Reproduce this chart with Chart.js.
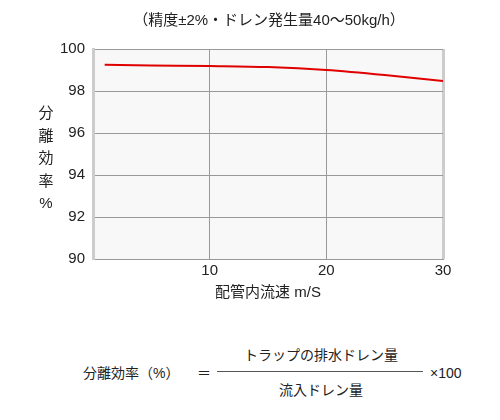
<!DOCTYPE html>
<html>
<head>
<meta charset="utf-8">
<script src="https://cdn.jsdelivr.net/npm/chart.js@4"></script>
<style>
  body { margin: 0; background: #fff; }
  #wrap { position: relative; width: 500px; height: 420px; font-family: 'Liberation Sans', 'Noto Sans CJK JP', sans-serif; color: #222; }
  #box { position: absolute; left: 0; top: 0; width: 500px; height: 305px; }
  .txt { position: absolute; white-space: nowrap; font-size: 14px; line-height: 1; }
  #title { left: 269px; top: 12px; transform: translateX(-50%); font-size: 15px; }
  #ylab { position: absolute; left: 38px; top: 102px; width: 16px; font-size: 15px; line-height: 22.5px; text-align: center; }
  #frac { position: absolute; left: 217px; top: 371px; width: 206px; border-top: 1px solid #555; }
</style>
</head>
<body>
<div id="wrap">
  <div id="box"><canvas id="chart"></canvas></div>
  <div class="txt" id="title">（精度±2%・ドレン発生量40～50kg/h）</div>
  <div id="ylab">分<br>離<br>効<br>率<br>%</div>
  <div class="txt" style="left:83px; top:366px;">分離効率（%）</div>
  <div class="txt" style="left:197px; top:366px;">＝</div>
  <div class="txt" style="left:321px; top:348px; transform:translateX(-50%);">トラップの排水ドレン量</div>
  <div id="frac"></div>
  <div class="txt" style="left:321px; top:383px; transform:translateX(-50%);">流入ドレン量</div>
  <div class="txt" style="left:430px; top:366px;">×100</div>
</div>
<script>
//--- Data
var speeds = [1, 5, 10, 15, 20, 25, 30];
var efficiency = [99.25, 99.22, 99.19, 99.14, 99.0, 98.76, 98.47];

var plotBackground = {
    id: 'plotBackground',
    beforeDraw: function(chart) {
        var a = chart.chartArea, ctx = chart.ctx;
        ctx.save();
        ctx.fillStyle = '#f8f8f8';
        ctx.fillRect(a.left, a.top, a.right - a.left, a.bottom - a.top);
        ctx.restore();
    }
};

var fontFamily = "'Liberation Sans', 'Noto Sans CJK JP', sans-serif";

var chart = new Chart(document.getElementById('chart').getContext('2d'), {
    type: 'line',
    data: {
        datasets: [{
            data: speeds.map(function(s, i) { return {x: s, y: efficiency[i]}; }),
            borderColor: '#e00000', borderWidth: 2,
            pointRadius: 0, cubicInterpolationMode: 'monotone', fill: false
        }]
    },
    options: {
        responsive: true, maintainAspectRatio: false, animation: false,
        layout: {padding: {left: 0, right: 57, top: 49, bottom: 0}},
        plugins: {legend: {display: false}, tooltip: {enabled: false}},
        scales: {
            x: {
                type: 'linear', min: 0, max: 30,
                afterFit: function(s) { s.height = 46; },
                ticks: {
                    stepSize: 10, padding: 3, color: '#222',
                    font: {family: fontFamily, size: 15},
                    callback: function(v) { return v === 0 ? '' : v; }
                },
                grid: {
                    drawTicks: false,
                    color: function(c) { return c.tick && c.tick.value === 30 ? '#cccccc' : (c.tick && c.tick.value === 0 ? 'rgba(0,0,0,0)' : '#999999'); },
                    lineWidth: function(c) { return c.tick && c.tick.value === 30 ? 3 : 1; }
                },
                border: {color: '#999999', width: 1},
                title: {
                    display: true, text: '配管内流速 m/S', color: '#222',
                    font: {family: fontFamily, size: 15}, padding: {top: 0, bottom: 3}
                }
            },
            y: {
                min: 90, max: 100,
                afterFit: function(s) { s.width = 93; },
                ticks: {stepSize: 2, padding: 8, color: '#222', font: {family: fontFamily, size: 15}},
                grid: {drawTicks: false, color: '#999999'},
                border: {color: '#cccccc', width: 3}
            }
        }
    },
    plugins: [plotBackground]
});
</script>
</body>
</html>
